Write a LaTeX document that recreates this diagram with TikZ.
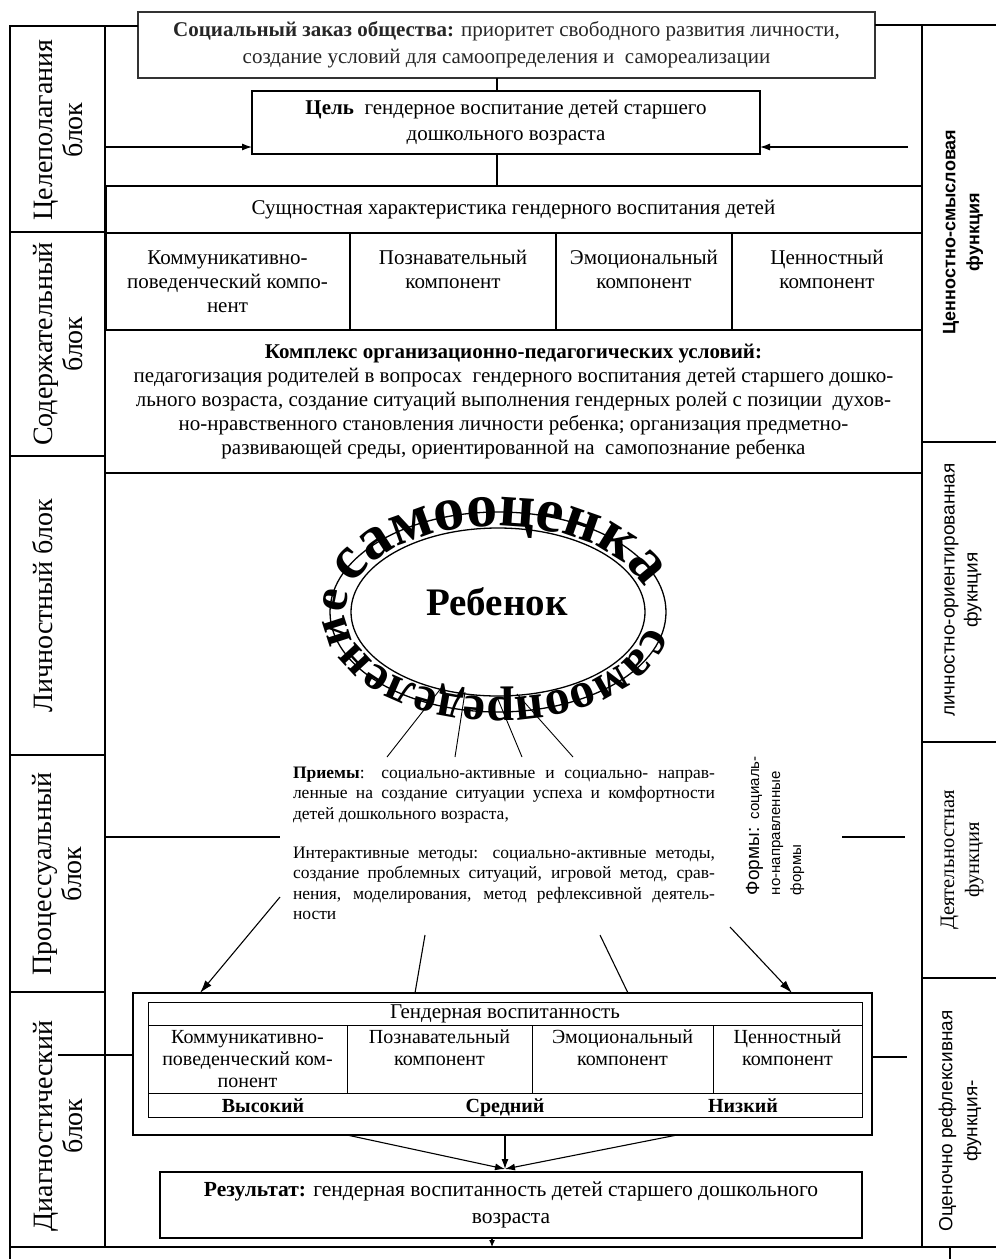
\documentclass[tikz,border=0pt]{standalone}
\usepackage{fontspec}
\setmainfont{Liberation Serif}
\setsansfont{Liberation Sans}
\usetikzlibrary{arrows.meta,decorations.text,shapes.geometric}
\newcommand\fsz[2]{\fontsize{#1}{#2}\selectfont}
\newcommand\ringtop{\bfseries\fsz{62}{62}}
\newcommand\ringbot{\bfseries\fsz{50}{50}}
\begin{document}
\begin{tikzpicture}[x=1pt,y=-1pt,
  every node/.style={inner sep=0pt,outer sep=0pt},
  cell/.style={draw,line width=1.2pt,align=center},
  thincell/.style={draw,line width=0.8pt,align=center},
  lnk/.style={line width=1.1pt},
  arr/.style={line width=1.1pt,-{Latex[length=10pt,width=7pt]}},
  bigarr/.style={line width=1.1pt,-{Latex[length=13pt,width=8pt]}},
  side/.style={rotate=90,align=center},
  body/.style={font=\fsz{21}{24}},
]
\useasboundingbox (0,0) rectangle (996,1259);

% ---------- left column ----------
\node[cell,minimum width=95,minimum height=206] (L1) at (57.5,129) {};
\node[cell,minimum width=95,minimum height=224] (L2) at (57.5,344) {};
\node[cell,minimum width=95,minimum height=299] (L3) at (57.5,605.5) {};
\node[cell,minimum width=95,minimum height=237] (L4) at (57.5,873.5) {};
\node[cell,minimum width=95,minimum height=255] (L5) at (57.5,1119.5) {};
\node[side,font=\fsz{28}{30}] (L1t) at (58,130) {Целеполагания\\блок};
\node[side,font=\fsz{28}{30}] (L2t) at (58.5,344) {Содержательный\\блок};
\node[side,font=\fsz{28}{30}] (L3t) at (43,606) {Личностный блок};
\node[side,font=\fsz{28}{30}] (L4t) at (57,874) {Процессуальный\\блок};
\node[side,font=\fsz{28}{30}] (L5t) at (58,1126) {Диагностический\\блок};

% ---------- right column ----------
\node[cell,minimum width=80,minimum height=417] (R1) at (962,233.5) {};
\node[cell,minimum width=80,minimum height=300] (R2) at (962,592) {};
\node[cell,minimum width=80,minimum height=236] (R3) at (962,860) {};
\node[cell,minimum width=80,minimum height=269] (R4) at (962,1112.5) {};
\node[side,font=\sffamily\bfseries\fsz{18}{24}] (R1t) at (963,232) {Ценностно-смысловая\\функция};
\node[side,font=\sffamily\fsz{19}{23}] (R2t) at (963,590) {личностно-ориентированная\\фукнция};
\node[side,font=\fsz{20.5}{25}] (R3t) at (962,860) {Деятельностная\\функция};
\node[side,font=\sffamily\fsz{19}{25}] (R4t) at (960,1121) {Оценочно рефлексивная\\функция-};

% ---------- bottom box ----------
\node[cell,minimum width=940,minimum height=30] (bot) at (480,1262) {};

% ---------- top ----------
\node[cell,draw=black!80,text=black!85,minimum width=737,minimum height=66,font=\fsz{21}{27}] (social) at (506.5,45)
  {\textbf{Социальный заказ общества:} приоритет свободного развития личности,\\создание условий для самоопределения и\ \ самореализации};
\node[cell,minimum width=508,minimum height=63,font=\fsz{21}{26}] (goal) at (506,122.5)
  {\textbf{Цель}\ \ гендерное воспитание детей старшего\\дошкольного возраста};

\draw[lnk] (L1.north east) -- (social.west |- L1.north east);
\draw[lnk] (social.east |- R1.north west) -- (R1.north west);
\coordinate (gl) at (105,147);
\coordinate (gr) at (908,147);
\draw[arr] (gl) -- (goal.west |- gl);
\draw[arr] (gr) -- (goal.east |- gr);
\coordinate (sg) at (497,0);

% ---------- essence table ----------
\node[cell,body,minimum width=817,minimum height=47] (ess) at (513.5,209.5)
  {Сущностная характеристика гендерного воспитания детей};
\node[cell,body,minimum width=245,minimum height=97] (c1) at (227.5,281.5) {Коммуникативно-\\поведенческий компо-\\нент};
\node[cell,body,minimum width=206,minimum height=97] (c2) at (453,281.5) {Познавательный\\компонент\\\phantom{Б}};
\node[cell,body,minimum width=176,minimum height=97] (c3) at (644,281.5) {Эмоциональный\\компонент\\\phantom{Б}};
\node[cell,body,minimum width=190,minimum height=97] (c4) at (827,281.5) {Ценностный\\компонент\\\phantom{Б}};
\draw[line width=3pt] (ess.north west) -- (c1.south west);

\draw[lnk] (sg |- social.south) -- (sg |- goal.north);
\draw[lnk] (sg |- goal.south) -- (sg |- ess.north);

\node[cell,body,minimum width=817,minimum height=143] (cx) at (513.5,401.5)
  {\textbf{Комплекс организационно-педагогических условий:}\\
   педагогизация родителей в вопросах\ \ гендерного воспитания детей старшего дошко-\\
   льного возраста, создание ситуаций выполнения гендерных ролей с позиции\ \ духов-\\
   но-нравственного становления личности ребенка; организация предметно-\\
   развивающей среды, ориентированной на\ \ самопознание ребенка};

% ---------- ring ----------
\coordinate (r1a) at (442,687); \coordinate (r1b) at (387,757);
\coordinate (r2a) at (465,692); \coordinate (r2b) at (455,757);
\coordinate (r3a) at (497,697); \coordinate (r3b) at (522,757);
\coordinate (r4a) at (517,694); \coordinate (r4b) at (573,757);
\draw[line width=0.9pt] (r1a) -- (r1b);
\draw[line width=0.9pt] (r2a) -- (r2b);
\draw[line width=0.9pt] (r3a) -- (r3b);
\draw[line width=0.9pt] (r4a) -- (r4b);

\node[draw,ellipse,line width=1.3pt,minimum width=336,minimum height=200] (ring) at (498,612) {};
\node[draw,ellipse,line width=1.3pt,minimum width=294,minimum height=168] (ringin) at (ring.center) {};

\path[decorate,decoration={text along path,text align=center,text={|\ringtop|самооценка}}]
  (ring.center) ++(190:152 and 86) arc[start angle=190,end angle=352,x radius=152,y radius=86];
\path[decorate,decoration={text along path,text align=center,text={|\ringbot|самоопределение}}]
  (ring.center) ++(5:152 and 86) arc[start angle=5,end angle=198,x radius=152,y radius=86];

\node[font=\bfseries\fsz{39}{39}] (child) at (497,602) {Ребенок};

% ---------- methods text ----------
\node[anchor=north west,text width=422,align=justify,font=\fsz{17.5}{20.5}] (prm) at (293,767)
  {\textbf{Приемы}: социально-активные и социально- направ-\linebreak
   ленные на создание ситуации успеха и комфортности\linebreak
   детей дошкольного возраста,\par\vskip18.5pt
   Интерактивные методы: социально-активные методы,\linebreak
   создание проблемных ситуаций, игровой метод, срав-\linebreak
   нения, моделирования, метод рефлексивной деятель-\linebreak
   ности};

\node[rotate=90,anchor=north west,align=left,font=\sffamily\fsz{15}{21}] (frm) at (746,895)
  {{\fsz{19}{21}Формы:}\ \ социаль-\\но-направленные\\формы};

\coordinate (pl) at (280,837);
\draw[lnk] (L4.east |- pl) -- (pl);
\coordinate (prA) at (842,837); \coordinate (prB) at (905,837);
\draw[lnk] (prA) -- (prB);

% ---------- gender box ----------
\node[cell,minimum width=739,minimum height=142] (gbox) at (502.5,1064) {};
\node[thincell,minimum width=714,minimum height=23,font=\fsz{21}{24}] (gh) at (505,1013.5) {Гендерная воспитанность};
\node[thincell,minimum width=199,minimum height=68,font=\fsz{20}{22}] (g1) at (247.5,1059) {Коммуникативно-\\поведенческий ком-\\понент};
\node[thincell,minimum width=185,minimum height=68,font=\fsz{20}{22}] (g2) at (439.5,1059) {Познавательный\\компонент\\\phantom{Б}};
\node[thincell,minimum width=181,minimum height=68,font=\fsz{20}{22}] (g3) at (622.5,1059) {Эмоциональный\\компонент\\\phantom{Б}};
\node[thincell,minimum width=149,minimum height=68,font=\fsz{20}{22}] (g4) at (787.5,1059) {Ценностный\\компонент\\\phantom{Б}};
\node[thincell,minimum width=714,minimum height=24] (lev) at (505,1105) {};
\node[anchor=base,font=\bfseries\fsz{20}{22}] (lv1) at (263,1112) {Высокий};
\node[anchor=base,font=\bfseries\fsz{20}{22}] (lv2) at (505,1112) {Средний};
\node[anchor=base,font=\bfseries\fsz{20}{22}] (lv3) at (743,1112) {Низкий};

\coordinate (dl) at (58,1055);
\draw[lnk] (dl) -- (gbox.west |- dl);
\coordinate (dr) at (907,1057);
\draw[lnk] (gbox.east |- dr) -- (dr);

% arrows from methods to gender box
\coordinate (m1) at (280,897); \coordinate (m1e) at (200,0);
\coordinate (m2) at (425,935); \coordinate (m2e) at (415,0);
\coordinate (m3) at (600,935); \coordinate (m3e) at (628,0);
\coordinate (m4) at (730,927); \coordinate (m4e) at (792,0);
\draw[bigarr] (m1) -- (m1e |- gbox.north);
\draw[lnk] (m2) -- (m2e |- gbox.north);
\draw[lnk] (m3) -- (m3e |- gbox.north);
\draw[bigarr] (m4) -- (m4e |- gbox.north);

% ---------- result ----------
\node[cell,minimum width=702,minimum height=66,font=\fsz{21.5}{27}] (res) at (511,1205)
  {\textbf{Результат:} гендерная воспитанность детей старшего дошкольного\\возраста};
\coordinate (cv) at (505,1169);
\coordinate (a1) at (347,0); \coordinate (a2) at (505,0); \coordinate (a3) at (677,0);
\draw[arr] (a1 |- gbox.south) -- (cv);
\draw[arr] (a2 |- gbox.south) -- (cv);
\draw[arr] (a3 |- gbox.south) -- (cv);
\coordinate (rb) at (492,0);
\draw[line width=1.1pt,-{Latex[length=7pt,width=6pt]}] (rb |- res.south) -- (rb |- bot.north);
\end{tikzpicture}
\end{document}
